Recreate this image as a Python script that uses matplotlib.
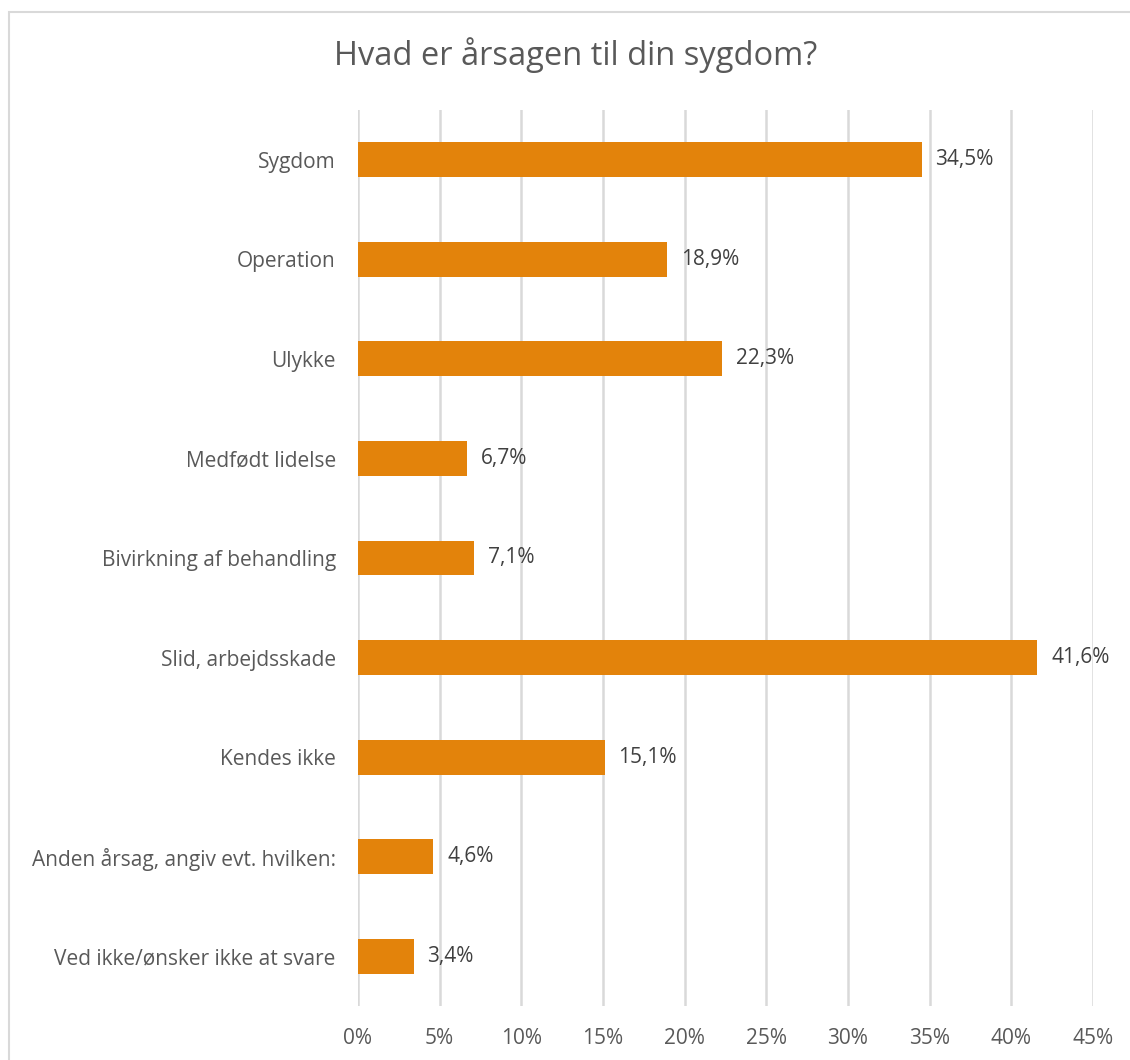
import matplotlib
matplotlib.use("Agg")
import matplotlib.pyplot as plt
from matplotlib.patches import Rectangle
import numpy as np

categories = [
    "Sygdom",
    "Operation",
    "Ulykke",
    "Medfødt lidelse",
    "Bivirkning af behandling",
    "Slid, arbejdsskade",
    "Kendes ikke",
    "Anden årsag, angiv evt. hvilken:",
    "Ved ikke/ønsker ikke at svare",
]
values = [34.5, 18.9, 22.3, 6.7, 7.1, 41.6, 15.1, 4.6, 3.4]
xticks = [0, 5, 10, 15, 20, 25, 30, 35, 40, 45]

plt.rcParams['font.family'] = ['Open Sans', 'DejaVu Sans']

W, H = 1130, 1060
fig = plt.figure(figsize=(W / 100, H / 100), dpi=100)
text_col = '#595959'

# chart border (only top and left visible, the rest is cropped)
fig.patches.append(Rectangle((9 / W, -0.1), 2, 1.1 - 12 / H, transform=fig.transFigure,
                             fill=False, edgecolor='#D9D9D9', linewidth=1.5))

ax = fig.add_axes([358 / W, 1 - 1006 / H, (1093 - 358) / W, (1006 - 110) / H])

y = np.arange(len(categories))
ax.barh(y, values, height=0.35, color='#E3830B', zorder=3)
for yi, v in zip(y, values):
    ax.annotate(f"{v:.1f}%".replace('.', ','), (v, yi), xytext=(10, 0),
                textcoords='offset points', va='center', ha='left',
                fontsize=15, color='#404040')

ax.set_ylim(len(categories) - 0.5, -0.5)
ax.set_xlim(0, 45)
ax.set_yticks(y)
ax.set_yticklabels(categories, fontsize=15, color=text_col)
ax.set_xticks(xticks)
ax.set_xticklabels([f"{t}%" for t in xticks], fontsize=15, color=text_col)
ax.tick_params(length=0)
ax.tick_params(axis='y', pad=16)
ax.tick_params(axis='x', pad=16)
ax.grid(axis='x', color='#D9D9D9', linewidth=1.8, zorder=0)
for s in ax.spines.values():
    s.set_visible(False)

fig.text(576 / W, 1 - 55 / H, "Hvad er årsagen til din sygdom?", ha='center',
         va='center', fontsize=23.5, color=text_col)

fig.savefig("out.png", dpi=100)
